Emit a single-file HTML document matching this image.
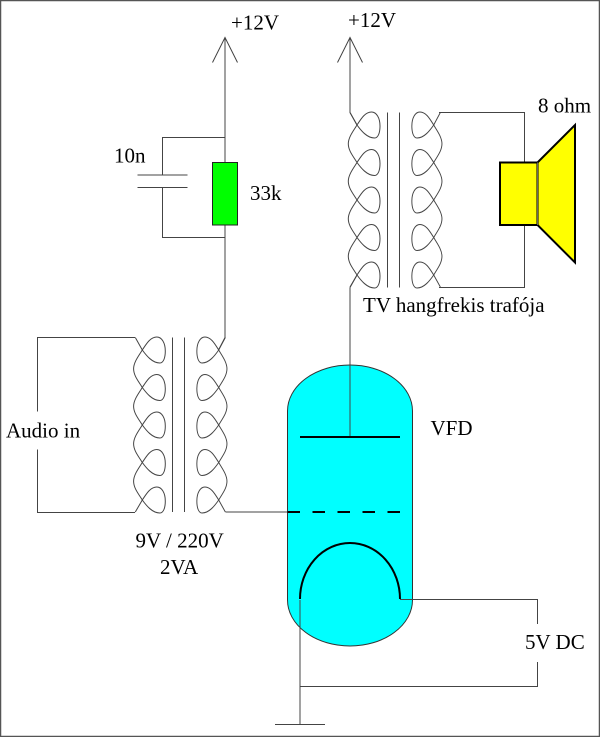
<!DOCTYPE html>
<html><head><meta charset="utf-8"><style>
html,body{margin:0;padding:0;background:#fff}
svg{display:block}
text{font-family:"Liberation Serif",serif;font-size:21px;fill:#000}
</style></head><body>
<svg width="600" height="737" viewBox="0 0 600 737" xmlns="http://www.w3.org/2000/svg">
<defs>
<path id="t" fill="none" stroke="#444" stroke-width="1" d="M0 0C4 5.5 10 13 17.5 13C21.5 13 23 7 23 1C23 -7 19.5 -13 14.5 -13C8 -13 4 -6 0 0"/>
<path id="b" fill="none" stroke="#444" stroke-width="1" d="M0 0C-3 5 -8.7 12 -8.7 18.75C-8.7 25.5 -4 31 0 37.5"/>
<g id="c">
<path fill="none" stroke="#444" stroke-width="1" d="M-7 -12.5L0 0M0 150L-7 162"/>
<use href="#t"/><use href="#b"/>
<use href="#t" y="37.5"/><use href="#b" y="37.5"/>
<use href="#t" y="75"/><use href="#b" y="75"/>
<use href="#t" y="112.5"/><use href="#b" y="112.5"/>
<use href="#t" y="150"/>
</g>
</defs>
<rect x="0.5" y="0.5" width="599" height="736" fill="#fff" stroke="#555" stroke-width="1.5"/>
<path d="M287.5 411A62.5 46 0 0 1 412.5 411V600A62.5 46 0 0 1 287.5 600Z" fill="#00ffff" stroke="#333" stroke-width="1"/>
<g fill="none" stroke="#444" stroke-width="1">
<path d="M225 37.5V337.5L218.5 350"/>
<path d="M212.5 62.5L225 37.5L237.5 62.5"/>
<path d="M225 137.5H162.5V175M137.5 175H187.5M137.5 187.5H187.5M162.5 187.5V237.5H225"/>
<path d="M350 37.5V112.5L357 125"/>
<path d="M337.5 62.5L350 37.5L362.5 62.5"/>
<path d="M350 287.5V437.5"/>
<path d="M350 287.5L357 275"/>
<path d="M172.5 337.5V512M184.5 337.5V512"/>
<path d="M387.5 112.5V287.5M399.5 112.5V287.5"/>
<path d="M135 337.5H37.5V411.5M37.5 449.5V512.5H135"/>
<path d="M225.5 512H287.5"/>
<path d="M439 112.5H524.5V162.5M524.5 225V287.5H439"/>
<path d="M400 599.5H537.5V624M537.5 662V686.5H300"/>
<path d="M300 600V724M275 724.5H325"/>
</g>
<use href="#c" transform="translate(142.3 350)"/>
<use href="#c" transform="translate(218.7 350) scale(-.95 1)"/>
<use href="#c" transform="translate(357 125)"/>
<use href="#c" transform="translate(433.7 125) scale(-.95 1)"/>
<rect x="212.5" y="162.5" width="25" height="62.5" fill="#00ff00" stroke="#222" stroke-width="1"/>
<path d="M537.5 162.5L575 125V262.5L537.5 225Z" fill="#ffff00" stroke="#000" stroke-width="2"/>
<rect x="500" y="162.5" width="37.5" height="62.5" fill="#ffff00" stroke="#000" stroke-width="2"/>
<path d="M537.5 162.5V225" stroke="#666" stroke-width="1"/>
<path d="M300 437H400" stroke="#000" stroke-width="2"/>
<path d="M287.5 512H400" stroke="#000" stroke-width="2" stroke-dasharray="12.5 12.5"/>
<path d="M300 599A50 56 0 0 1 400 599" fill="none" stroke="#000" stroke-width="2"/>
<text x="231" y="29.5">+12V</text>
<text x="348" y="27">+12V</text>
<text x="538" y="112.5">8 ohm</text>
<text x="114" y="162.5">10n</text>
<text x="250" y="200">33k</text>
<text x="363" y="312">TV hangfrekis trafója</text>
<text x="430.5" y="435">VFD</text>
<text x="6" y="437.5">Audio in</text>
<text x="135.5" y="547.5">9V / 220V</text>
<text x="160" y="574">2VA</text>
<text x="525" y="649">5V DC</text>
</svg>
</body></html>
